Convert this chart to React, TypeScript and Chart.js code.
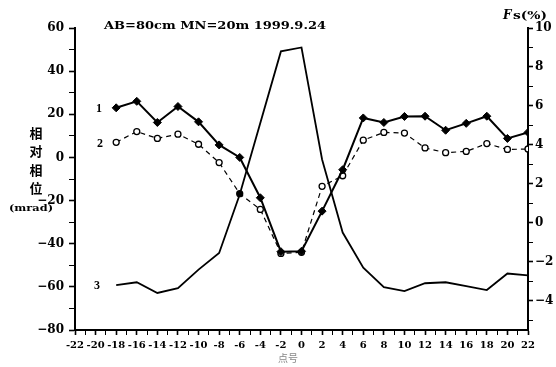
import React, { useEffect, useRef } from "react";
import { Chart, registerables } from "chart.js";

Chart.register(...registerables);

// ---- data ----
const POINT_NUMBERS = [-18, -16, -14, -12, -10, -8, -6, -4, -2, 0, 2, 4, 6, 8, 10, 12, 14, 16, 18, 20, 22];
const PHASE_CURVE_1 = [23, 26, 16.2, 23.6, 16.5, 5.8, 0, -18.7, -43.7, -43.5, -24.9, -5.7, 18.3, 16.2, 19, 19.1, 12.6, 15.8, 19.1, 8.8, 11.6];
const PHASE_CURVE_2 = [7, 12, 8.8, 10.8, 6.1, -2.4, -16.8, -24.1, -44.5, -44, -13.4, -8.5, 8, 11.6, 11.3, 4.4, 2.2, 2.8, 6.4, 3.7, 3.9];
const FS_POINT_NUMBERS = [-18, -16, -14, -12, -10, -8, -6, -2, 0, 2, 4, 6, 8, 10, 12, 14, 16, 18, 20, 22];
const FS_VALUES = [-3.2, -3.05, -3.6, -3.35, -2.4, -1.55, 1.45, 8.8, 9.0, 3.25, -0.5, -2.3, -3.3, -3.5, -3.1, -3.05, -3.25, -3.45, -2.6, -2.7];

// ---- tick labels ----
const X_TICK_LABELS = [-22, -20, -18, -16, -14, -12, -10, -8, -6, -4, -2, 0, 2, 4, 6, 8, 10, 12, 14, 16, 18, 20, 22];
const LEFT_TICK_LABELS = [-80, -60, -40, -20, 0, 20, 40, 60];
const RIGHT_TICK_LABELS = [-4, -2, 0, 2, 4, 6, 8, 10];

const TITLE = "AB=80cm MN=20m 1999.9.24";
const LEFT_TITLE_CHARS = ["相", "对", "相", "位"];
const LEFT_TITLE_UNIT = "(mrad)";
const X_TITLE = "点号";
const SERIES_NAMES = ["1", "2", "3"];

function withMinor(labels: number[], step: number) {
  const out: number[] = [];
  for (let i = 0; i < labels.length - 1; i++) {
    out.push(labels[i]);
    for (let v = labels[i] + step; v < labels[i + 1] - 1e-9; v += step) out.push(v);
  }
  out.push(labels[labels.length - 1]);
  return out;
}

const fmtMinus = (v: number) => (v < 0 ? "\u2212" + Math.abs(v) : String(v));

const textPlugin = {
  id: "refTexts",
  afterDraw(chart: any) {
    const ctx: CanvasRenderingContext2D = chart.ctx;
    const stretch = (text: string, left: number, cy: number, width: number, font: string, color = "#000") => {
      ctx.save();
      ctx.font = font;
      ctx.fillStyle = color;
      ctx.textAlign = "left";
      ctx.textBaseline = "middle";
      const w = ctx.measureText(text).width;
      ctx.translate(left, cy);
      ctx.scale(width / w, 1);
      ctx.fillText(text, 0, 0);
      ctx.restore();
    };
    // title
    stretch(TITLE, 104, 26, 222, "bold 11px 'DejaVu Serif'");
    // left axis title (vertical stack)
    ctx.save();
    ctx.font = "bold 13px 'Noto Sans CJK SC'";
    ctx.fillStyle = "#000";
    ctx.textAlign = "center";
    ctx.textBaseline = "middle";
    LEFT_TITLE_CHARS.forEach((ch, i) => ctx.fillText(ch, 36, 133 + i * 18.5));
    ctx.restore();
    stretch(LEFT_TITLE_UNIT, 9, 208, 44, "bold 10px 'DejaVu Serif'");
    // right axis title
    ctx.save();
    ctx.font = "italic bold 12px 'DejaVu Serif'";
    ctx.fillStyle = "#000";
    ctx.textBaseline = "middle";
    ctx.textAlign = "left";
    ctx.fillText("F", 503, 16);
    ctx.restore();
    stretch("s(%)", 513, 16, 34, "bold 11px 'DejaVu Serif'");
    // series labels
    ctx.save();
    ctx.font = "bold 12px 'Liberation Serif'";
    ctx.fillStyle = "#000";
    ctx.textAlign = "center";
    ctx.textBaseline = "middle";
    ctx.fillText(SERIES_NAMES[0], 99, 109);
    ctx.fillText(SERIES_NAMES[1], 100, 144);
    ctx.fillText(SERIES_NAMES[2], 97, 286);
    ctx.restore();
    // x title
    ctx.save();
    ctx.font = "10px 'Noto Sans CJK SC'";
    ctx.fillStyle = "#888";
    ctx.textAlign = "center";
    ctx.textBaseline = "middle";
    ctx.fillText(X_TITLE, 288, 358);
    ctx.restore();
  },
};

export default function App() {
  const ref = useRef<HTMLCanvasElement | null>(null);
  useEffect(() => {
    if (!ref.current) return;
    const xTicks = withMinor(X_TICK_LABELS, 1);
    const leftTicks = withMinor(LEFT_TICK_LABELS, 10);
    const rightTicks = withMinor(RIGHT_TICK_LABELS, 1);
    rightTicks.unshift(-5);

    const chart = new Chart(ref.current, {
      type: "line",
      data: {
        datasets: [
          {
            label: "1",
            data: POINT_NUMBERS.map((x, i) => ({ x, y: PHASE_CURVE_1[i] })),
            yAxisID: "y",
            borderColor: "#000",
            borderWidth: 2,
            pointStyle: "rectRot",
            pointRadius: 4,
            pointBackgroundColor: "#000",
            pointBorderColor: "#000",
            pointBorderWidth: 1,
          },
          {
            label: "2",
            data: POINT_NUMBERS.map((x, i) => ({ x, y: PHASE_CURVE_2[i] })),
            yAxisID: "y",
            borderColor: "#000",
            borderWidth: 1.2,
            borderDash: [5, 4],
            pointStyle: "circle",
            pointRadius: 3,
            pointBackgroundColor: POINT_NUMBERS.map((x) => (x === -6 ? "#000" : "#fff")),
            pointBorderColor: "#000",
            pointBorderWidth: 1.3,
          },
          {
            label: "3",
            data: FS_POINT_NUMBERS.map((x, i) => ({ x, y: FS_VALUES[i] })),
            yAxisID: "y1",
            borderColor: "#000",
            borderWidth: 1.8,
            pointRadius: 0,
          },
        ],
      },
      options: {
        animation: false,
        responsive: false,
        devicePixelRatio: 1,
        layout: { padding: { top: 28, left: 0, right: 0, bottom: 0 } },
        plugins: { legend: { display: false }, tooltip: { enabled: false } },
        scales: {
          x: {
            type: "linear",
            position: "bottom",
            min: -22,
            max: 22,
            afterBuildTicks: (s: any) => {
              s.ticks = xTicks.map((v) => ({ value: v }));
            },
            afterFit: (s: any) => {
              s.height = 37;
            },
            ticks: {
              autoSkip: false,
              maxRotation: 0,
              minRotation: 0,
              padding: 4,
              color: "#000",
              font: { family: "'DejaVu Serif'", weight: "bold", size: 10 },
              callback: (v: any) => (X_TICK_LABELS.includes(Number(v)) ? String(v) : ""),
            },
            grid: {
              drawOnChartArea: false,
              drawTicks: true,
              tickLength: 5,
              tickColor: "#000",
              tickWidth: (c: any) => (X_TICK_LABELS.includes(c.tick?.value) ? 1.6 : 1),
            },
            border: { display: true, color: "#000", width: 2 },
          },
          y: {
            type: "linear",
            position: "left",
            min: -80,
            max: 60,
            afterBuildTicks: (s: any) => {
              s.ticks = leftTicks.map((v) => ({ value: v }));
            },
            afterFit: (s: any) => {
              s.width = 75;
            },
            ticks: {
              padding: 5,
              color: "#000",
              font: { family: "'DejaVu Serif'", weight: "bold", size: 12 },
              callback: (v: any) => (LEFT_TICK_LABELS.includes(Number(v)) ? fmtMinus(Number(v)) : ""),
            },
            grid: {
              drawOnChartArea: false,
              drawTicks: true,
              tickLength: 6,
              tickColor: "#000",
              tickWidth: (c: any) => (LEFT_TICK_LABELS.includes(c.tick?.value) ? 1.6 : 1),
            },
            border: { display: true, color: "#000", width: 2 },
          },
          y1: {
            type: "linear",
            position: "right",
            min: -5.5,
            max: 10,
            afterBuildTicks: (s: any) => {
              s.ticks = rightTicks.map((v) => ({ value: v }));
            },
            afterFit: (s: any) => {
              s.width = 28;
            },
            ticks: {
              padding: 2,
              color: "#000",
              font: { family: "'DejaVu Serif'", weight: "bold", size: 12 },
              callback: (v: any) => (RIGHT_TICK_LABELS.includes(Number(v)) ? fmtMinus(Number(v)) : ""),
            },
            grid: {
              drawOnChartArea: false,
              drawTicks: true,
              tickLength: 5,
              tickColor: "#000",
              tickWidth: (c: any) => (RIGHT_TICK_LABELS.includes(c.tick?.value) ? 1.6 : 1),
            },
            border: { display: true, color: "#000", width: 2 },
          },
        },
      },
      plugins: [textPlugin],
    } as any);
    return () => chart.destroy();
  }, []);

  return (
    <div style={{ position: "absolute", left: 0, top: 0, width: 556, height: 367, background: "#fff" }}>
      <canvas ref={ref} width={556} height={367} style={{ width: 556, height: 367, display: "block" }} />
    </div>
  );
}
